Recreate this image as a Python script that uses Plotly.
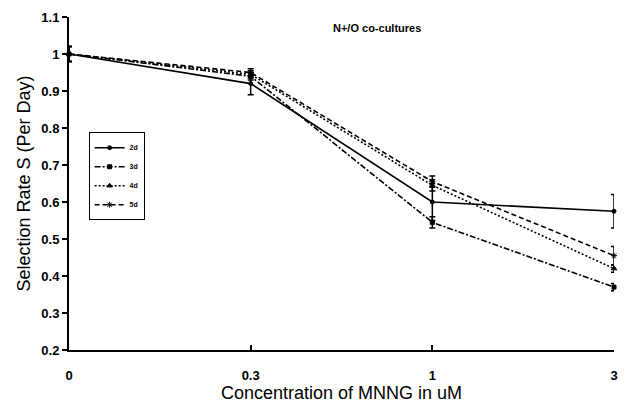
import plotly.graph_objects as go

categories = ["0", "0.3", "1", "3"]
series_names = ["2d", "3d", "4d", "5d"]
values_2d = [1.00, 0.92, 0.60, 0.575]
values_3d = [1.00, 0.94, 0.545, 0.37]
values_4d = [1.00, 0.945, 0.645, 0.42]
values_5d = [1.00, 0.95, 0.655, 0.455]
err_2d = [0.02, 0.03, 0.05, 0.045]
err_3d = [0.02, 0.01, 0.015, 0.01]
err_4d = [0.02, 0.01, 0.015, 0.01]
err_5d = [0.02, 0.01, 0.015, 0.025]

series = [
    ("2d", values_2d, err_2d, "solid", "circle", 4),
    ("3d", values_3d, err_3d, "6px,2px,2px,2px", "square", 4),
    ("4d", values_4d, err_4d, "2px,2px", "triangle-up", 5),
    ("5d", values_5d, err_5d, "5px,3px", "asterisk-open", 5),
]

xpos = list(range(len(categories)))
font_family = "Liberation Sans, Arial, sans-serif"

fig = go.Figure()
for name, vals, errs, dash, sym, msize in series:
    fig.add_trace(go.Scatter(
        x=xpos, y=vals, name=name, mode="lines+markers",
        line=dict(color="black", width=1.6, dash=dash),
        marker=dict(symbol=sym, size=msize, color="black",
                    line=dict(color="black", width=1)),
        error_y=dict(type="data", array=errs, visible=True,
                     color="black", thickness=1.5, width=3),
        cliponaxis=False,
    ))

fig.update_layout(
    width=628, height=406,
    margin=dict(l=69, r=10, t=15, b=56),
    paper_bgcolor="white", plot_bgcolor="white",
    font=dict(family=font_family, color="black"),
    showlegend=True,
    legend=dict(
        x=0.036, y=0.654, xanchor="left", yanchor="top",
        bgcolor="white", bordercolor="black", borderwidth=1,
        font=dict(size=7, family=font_family, weight="bold"),
        itemwidth=30, tracegroupgap=0,
    ),
    annotations=[dict(
        text="<b>N+/O co-cultures</b>", xref="paper", yref="paper",
        x=0.566, y=0.99, showarrow=False,
        font=dict(size=11, family=font_family),
    )],
)

fig.update_xaxes(
    range=[0, 3], tickmode="array", tickvals=xpos, ticktext=categories,
    showline=True, linecolor="black", linewidth=2,
    ticks="inside", ticklen=5, tickcolor="black", tickwidth=1.5,
    showgrid=False, zeroline=False,
    tickfont=dict(size=13, family=font_family, weight="bold"),
    ticklabelstandoff=12,
    title=dict(text="Concentration of MNNG in uM",
               font=dict(size=18, family=font_family), standoff=0),
)
fig.update_yaxes(
    range=[0.2, 1.1], tickmode="array",
    tickvals=[0.2, 0.3, 0.4, 0.5, 0.6, 0.7, 0.8, 0.9, 1.0, 1.1],
    ticktext=["0.2", "0.3", "0.4", "0.5", "0.6", "0.7", "0.8", "0.9", "1", "1.1"],
    showline=True, linecolor="black", linewidth=2,
    ticks="outside", ticklen=5, tickcolor="black", tickwidth=1.5,
    showgrid=False, zeroline=False,
    tickfont=dict(size=13, family=font_family, weight="bold"),
    title=dict(text="Selection Rate S (Per Day)",
               font=dict(size=18, family=font_family), standoff=6),
)

fig.write_html("out.html")
